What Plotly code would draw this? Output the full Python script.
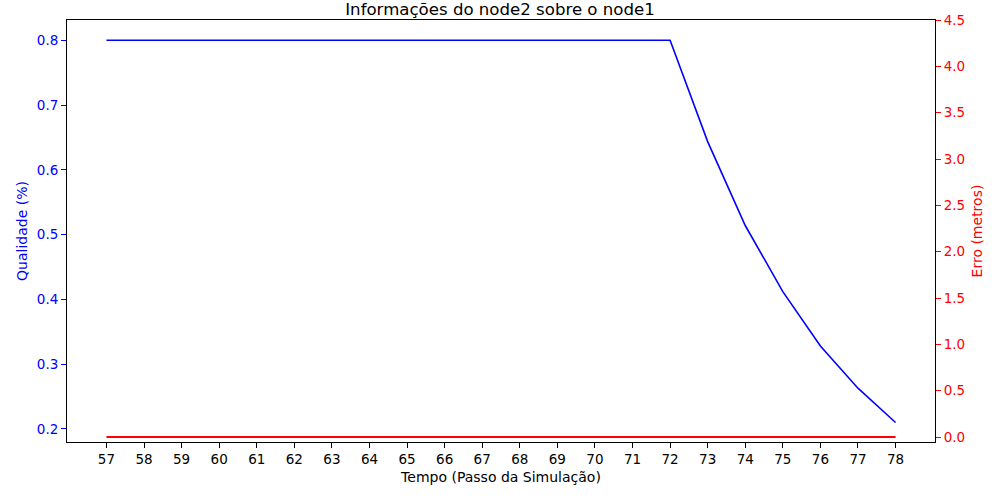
import plotly.graph_objects as go

steps = list(range(57, 79))
qualidade = [0.8] * 16 + [0.6435, 0.514, 0.412, 0.328, 0.263, 0.210]
erro = [0.0] * 22
qual_ticks = [0.2, 0.3, 0.4, 0.5, 0.6, 0.7, 0.8]
erro_ticks = [0.0, 0.5, 1.0, 1.5, 2.0, 2.5, 3.0, 3.5, 4.0, 4.5]

font = "DejaVu Sans"
fig = go.Figure()
fig.add_trace(go.Scatter(x=steps, y=qualidade, mode="lines",
                         line=dict(color="blue", width=1.6), yaxis="y"))
fig.add_trace(go.Scatter(x=steps, y=erro, mode="lines",
                         line=dict(color="red", width=2.2), yaxis="y2"))

fig.update_layout(
    width=1000, height=500,
    margin=dict(l=67, r=65, t=20, b=58, autoexpand=False),
    plot_bgcolor="white", paper_bgcolor="white",
    showlegend=False,
    font=dict(family=font, size=14, color="black"),
    title=dict(text="Informações do node2 sobre o node1", x=0.5, xanchor="center",
               y=1 - 9 / 500, yanchor="middle", yref="container",
               font=dict(size=16.6, color="black", family=font)),
    xaxis=dict(range=[55.95, 79.05], tickmode="array", tickvals=steps,
               ticktext=[str(s) for s in steps], automargin=False,
               showgrid=False, zeroline=False, showline=True, linecolor="black",
               linewidth=1, mirror=True, ticks="outside", ticklen=5,
               tickcolor="black", tickfont=dict(size=13.5),
               title=dict(text="Tempo (Passo da Simulação)", standoff=5,
                          font=dict(size=14, color="black"))),
    yaxis=dict(range=[0.1799, 0.8312], tickmode="array", tickvals=qual_ticks,
               ticktext=[f"{v:.1f}" for v in qual_ticks], automargin=False,
               showgrid=False, zeroline=False, showline=True, linecolor="black",
               linewidth=1, mirror=True, ticks="outside", ticklen=5,
               tickcolor="blue", tickfont=dict(color="blue", size=13.5),
               title=dict(text="Qualidade (%)", standoff=5,
                          font=dict(color="blue", size=14))),
    yaxis2=dict(range=[-0.054, 4.5], overlaying="y", side="right",
                tickmode="array", tickvals=erro_ticks, automargin=False,
                ticktext=[f"{v:.1f}" for v in erro_ticks],
                showgrid=False, zeroline=False, showline=False,
                ticks="outside", ticklen=5, tickcolor="red",
                tickfont=dict(color="red", size=13.5),
                title=dict(text="Erro (metros)", standoff=8,
                           font=dict(color="red", size=14))),
)

fig.write_html("out.html", config={"displayModeBar": False},
               post_script="document.body.style.margin='0';document.body.style.overflow='hidden';")
